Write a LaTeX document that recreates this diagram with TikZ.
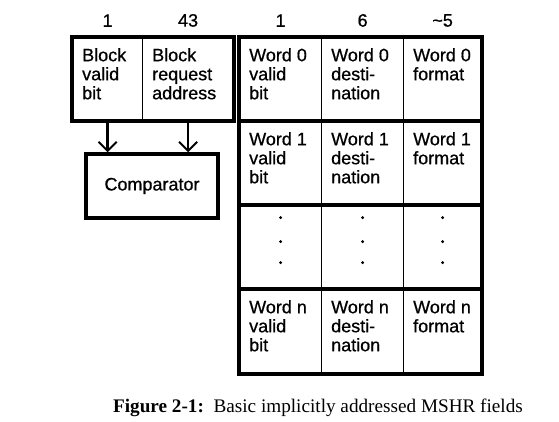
\documentclass[tikz,border=0pt]{standalone}
\usepackage{fontspec}
\setmainfont{Liberation Serif}
\setsansfont{Liberation Sans}
\newfontfamily\scanfont{Liberation Sans}[BoldFont={*},BoldFeatures={FakeBold=0.7}]
\usetikzlibrary{positioning,arrows.meta}

\begin{document}
\begin{tikzpicture}
  [x=1pt,y=-1pt,
   cell/.style={draw, line width=1.2pt, anchor=north west, inner sep=0pt, minimum height=84pt},
   txt/.style={anchor=north west, inner sep=0pt, align=left, font=\scanfont\bfseries\fontsize{18}{19}\selectfont, xshift=10pt, yshift=-11pt},
   hdr/.style={inner sep=0pt, font=\scanfont\bfseries\fontsize{18}{19}\selectfont, above=10pt},
   frame/.style={line width=3.5pt},
   ptr/.style={line width=2.5pt, -{Straight Barb[length=9pt,width=18pt,line width=2pt]}}]

  \useasboundingbox (0,0) rectangle (559,422);

  % block fields
  \node[cell, minimum width=70pt, minimum height=83pt] (bv) at (72,37) {};
  \node[cell, minimum width=91pt, minimum height=83pt] (bra) at (142,37) {};
  \node[txt] (tbv) at (bv.north west) {Block\\valid\\bit};
  \node[txt] (tbra) at (bra.north west) {Block\\request\\address};
  \draw[frame] (bv.north west) rectangle (bra.south east);

  \node[draw, frame, minimum width=132pt, minimum height=64pt, font=\scanfont\bfseries\fontsize{18}{19}\selectfont] (cmp) at (152,186) {Comparator};

  \draw[ptr] (bv.south) -- (bv.south |- cmp.north);
  \draw[ptr] (bra.south) -- (bra.south |- cmp.north);

  % word fields
  \node[cell, minimum width=82pt] (w0v) at (239,37) {};
  \node[cell, minimum width=82pt] (w0d) at (321,37) {};
  \node[cell, minimum width=78pt] (w0f) at (403,37) {};
  \node[cell, minimum width=82pt] (w1v) at (239,121) {};
  \node[cell, minimum width=82pt] (w1d) at (321,121) {};
  \node[cell, minimum width=78pt] (w1f) at (403,121) {};
  \node[cell, minimum width=82pt] (wdv) at (239,205) {};
  \node[cell, minimum width=82pt] (wdd) at (321,205) {};
  \node[cell, minimum width=78pt] (wdf) at (403,205) {};
  \node[cell, minimum width=82pt] (wnv) at (239,289) {};
  \node[cell, minimum width=82pt] (wnd) at (321,289) {};
  \node[cell, minimum width=78pt] (wnf) at (403,289) {};

  \node[txt] (tw0v) at (w0v.north west) {Word 0\\valid\\bit};
  \node[txt] (tw0d) at (w0d.north west) {Word 0\\desti-\\nation};
  \node[txt] (tw0f) at (w0f.north west) {Word 0\\format};
  \node[txt] (tw1v) at (w1v.north west) {Word 1\\valid\\bit};
  \node[txt] (tw1d) at (w1d.north west) {Word 1\\desti-\\nation};
  \node[txt] (tw1f) at (w1f.north west) {Word 1\\format};
  \node[txt] (twnv) at (wnv.north west) {Word n\\valid\\bit};
  \node[txt] (twnd) at (wnd.north west) {Word n\\desti-\\nation};
  \node[txt] (twnf) at (wnf.north west) {Word n\\format};

  \foreach \c in {wdv,wdd,wdf}
    \foreach \k in {-30,-6,15}
      \fill (\c.center) ++(0,\k) circle (1.6pt);

  \draw[frame] (w0v.north west) rectangle (wnf.south east);
  \draw[frame] (w1v.north west) -- (w1f.north east);
  \draw[frame] (wdv.north west) -- (wdf.north east);
  \draw[frame] (wnv.north west) -- (wnf.north east);

  % widths
  \node[hdr] (hbv) at (bv.north) {1};
  \node[hdr] (hbra) at (bra.north) {43};
  \node[hdr] (hwv) at (w0v.north) {1};
  \node[hdr] (hwd) at (w0d.north) {6};
  \node[hdr] (hwf) at (w0f.north) {\textasciitilde 5};

  \node[inner sep=0pt, anchor=base, font=\fontsize{19.2}{21}\selectfont] (cap) at (318,412)
    {\textbf{Figure 2-1:}\enspace Basic implicitly addressed MSHR fields};
\end{tikzpicture}
\end{document}
